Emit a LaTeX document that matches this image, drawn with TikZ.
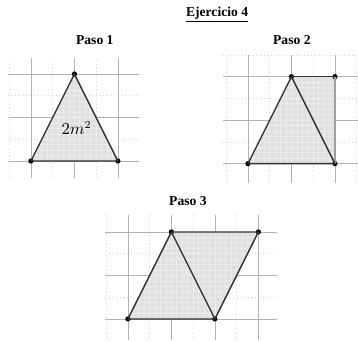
\documentclass[tikz,border=0pt]{standalone}
\usepackage{fontspec}
\setmainfont{Liberation Serif}
\usetikzlibrary{positioning}
\tikzset{
  grd/.style={draw=gray!60, line width=0.4pt},
  half/.style={draw=gray!35, line width=0.4pt, dotted},
  fig/.style={draw=black!80, line width=0.9pt, line join=round},
  side/.style={draw=gray!75, line width=0.9pt},
  pt/.style={circle, fill=black, inner sep=0pt, minimum size=3.4pt},
  shd/.style={fill=gray!24},
  fine/.style={draw=white!85!gray, line width=0.45pt},
  ttl/.style={font=\fontsize{8.9}{10}\selectfont\bfseries, inner sep=1pt},
}
% one sheet of squared paper: xmin, ymin, xmax, ymax
\newcommand{\sheet}[4]{%
  \draw[half] (#1,#2) grid[step=0.5] (#3,#4);
  \draw[grd] (#1,#2) grid[step=1] (#3,#4);
}
\begin{document}
\begin{tikzpicture}[x=1cm, y=1cm]
\useasboundingbox (0,0) rectangle (8.23,7.862);

\node[ttl] (ej) at (4.99,7.52) {\underline{Ejercicio 4}};
\node[ttl] (t1) at (2.18,6.94) {Paso 1};
\node[ttl] (t2) at (6.71,6.94) {Paso 2};
\node[ttl] (t3) at (4.32,3.24) {Paso 3};

% Paso 1
\begin{scope}[shift={(0.71,4.16)}]
\sheet{-0.53}{-0.39}{2.48}{2.37}
\begin{scope}
  \clip (0,0) -- (2,0) -- (1,2) -- cycle;
  \fill[shd] (0,0) rectangle (2,2);
  \draw[fine] (0,0) grid[step=0.125] (2,2);
\end{scope}
\node[pt] (p1a) at (0,0) {};
\node[pt] (p1b) at (2,0) {};
\node[pt] (p1c) at (1,2) {};
\draw[fig] (p1a.center) -- (p1b.center) -- (p1c.center) -- cycle;
\node[font=\fontsize{10.5}{12}\selectfont] (area) at (1.05,0.76) {$2m^2$};
\end{scope}

% Paso 2
\begin{scope}[shift={(5.70,4.10)}]
\sheet{-0.57}{-0.44}{2.53}{2.5}
\begin{scope}
  \clip (0,0) -- (2,0) -- (2,2) -- (1,2) -- cycle;
  \fill[shd] (0,0) rectangle (2,2);
  \draw[fine] (0,0) grid[step=0.125] (2,2);
\end{scope}
\node[pt] (p2a) at (0,0) {};
\node[pt] (p2b) at (2,0) {};
\node[pt] (p2c) at (1,2) {};
\node[pt] (p2d) at (2,2) {};
\draw[side] (p2b.center) -- (p2d.center);
\draw[fig] (p2a.center) -- (p2b.center) -- (p2c.center) -- cycle;
\draw[fig] (p2c.center) -- (p2d.center);
\end{scope}

% Paso 3
\begin{scope}[shift={(2.94,0.53)}]
\sheet{-0.53}{-0.48}{3.43}{2.39}
\begin{scope}
  \clip (0,0) -- (2,0) -- (3,2) -- (1,2) -- cycle;
  \fill[shd] (0,0) rectangle (3,2);
  \draw[fine] (0,0) grid[step=0.125] (3,2);
\end{scope}
\node[pt] (p3a) at (0,0) {};
\node[pt] (p3b) at (2,0) {};
\node[pt] (p3c) at (1,2) {};
\node[pt] (p3d) at (3,2) {};
\draw[fig] (p3a.center) -- (p3b.center) -- (p3d.center) -- (p3c.center) -- cycle;
\draw[fig] (p3c.center) -- (p3b.center);
\end{scope}
\end{tikzpicture}
\end{document}
